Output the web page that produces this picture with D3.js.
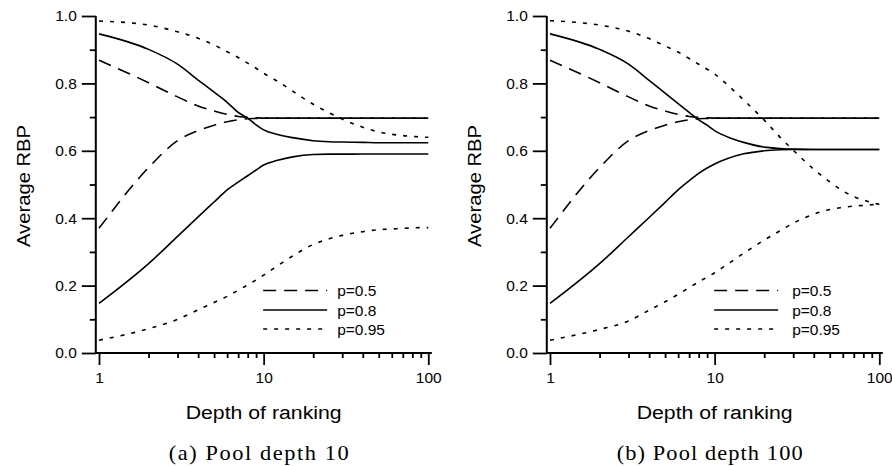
<!DOCTYPE html>
<html><head><meta charset="utf-8">
<script src="https://cdn.jsdelivr.net/npm/d3@7"></script>
<style>
body{margin:0;background:#fff}
svg{display:block}
text{fill:#000}
</style>
</head><body>
<svg id="chart" width="892" height="466"></svg>
<script>
// ---------------- data ----------------
const depths = [1,2,3,4,5,6,7,8,9,10,12,15,20,25,30,40,50,60,70,80,90,100];
const seriesNames = ["p=0.5","p=0.8","p=0.95"];
const xMajorTicks = [1,10,100];
const xMinorTicks = [2,3,4,5,6,7,8,9,20,30,40,50,60,70,80,90];
const yMajorTicks = [0,0.2,0.4,0.6,0.8,1.0];
const yMinorTicks = [0.1,0.3,0.5,0.7,0.9];
const captions = ["(a) Pool depth 10","(b) Pool depth 100"];
const xTitle = "Depth of ranking";
const yTitle = "Average RBP";

// (a) Pool depth 10
const a_p05_upper = [0.869,0.802,0.760,0.733,0.718,0.708,0.702,0.699,0.698,0.697,0.697,0.697,0.697,0.697,0.697,0.697,0.697,0.697,0.697,0.697,0.697,0.697];
const a_p05_lower = [0.370,0.550,0.630,0.660,0.676,0.686,0.692,0.695,0.696,0.697,0.697,0.697,0.697,0.697,0.697,0.697,0.697,0.697,0.697,0.697,0.697,0.697];
const a_p08_upper = [0.947,0.901,0.857,0.810,0.774,0.744,0.714,0.697,0.677,0.662,0.649,0.639,0.630,0.627,0.626,0.625,0.624,0.624,0.624,0.624,0.624,0.624];
const a_p08_lower = [0.147,0.265,0.346,0.404,0.448,0.484,0.507,0.526,0.543,0.558,0.571,0.582,0.589,0.590,0.590,0.5905,0.5905,0.5905,0.5905,0.5905,0.5905,0.5905];
const a_p095_upper = [0.985,0.973,0.953,0.934,0.914,0.894,0.877,0.860,0.845,0.830,0.808,0.777,0.738,0.713,0.694,0.670,0.656,0.649,0.645,0.643,0.641,0.640];
const a_p095_lower = [0.038,0.072,0.100,0.128,0.150,0.168,0.186,0.202,0.217,0.231,0.257,0.288,0.322,0.339,0.349,0.360,0.366,0.368,0.370,0.371,0.372,0.372];

// (b) Pool depth 100
const b_p05_upper = [0.869,0.802,0.760,0.733,0.718,0.708,0.702,0.699,0.698,0.697,0.697,0.697,0.697,0.697,0.697,0.697,0.697,0.697,0.697,0.697,0.697,0.697];
const b_p05_lower = [0.370,0.550,0.630,0.660,0.676,0.686,0.692,0.695,0.696,0.697,0.697,0.697,0.697,0.697,0.697,0.697,0.697,0.697,0.697,0.697,0.697,0.697];
const b_p08_upper = [0.947,0.901,0.857,0.809,0.771,0.740,0.714,0.692,0.676,0.660,0.641,0.625,0.611,0.607,0.605,0.604,0.604,0.604,0.604,0.604,0.604,0.604];
const b_p08_lower = [0.147,0.265,0.345,0.402,0.447,0.484,0.511,0.533,0.549,0.561,0.577,0.591,0.600,0.603,0.604,0.604,0.604,0.604,0.604,0.604,0.604,0.604];
const b_p095_upper = [0.986,0.973,0.955,0.933,0.911,0.893,0.874,0.857,0.842,0.828,0.795,0.751,0.691,0.640,0.602,0.545,0.508,0.481,0.464,0.454,0.446,0.441];
const b_p095_lower = [0.038,0.070,0.095,0.127,0.152,0.174,0.194,0.211,0.225,0.238,0.264,0.296,0.335,0.363,0.385,0.412,0.426,0.432,0.436,0.438,0.440,0.441];

// ---------------- drawing ----------------
const SANS = "'Liberation Sans', Arial, Helvetica, sans-serif";
const SERIF = "'Liberation Serif', 'Times New Roman', serif";
const dashes = {"p=0.5":"13,8","p=0.8":null,"p=0.95":"4,7"};
const panels = [
  {x0:99, legendText:74, caption:captions[0], captionLen:180,
   curves:[["p=0.5",a_p05_upper],["p=0.5",a_p05_lower],["p=0.8",a_p08_upper],["p=0.8",a_p08_lower],["p=0.95",a_p095_upper],["p=0.95",a_p095_lower]]},
  {x0:550, legendText:78, caption:captions[1], captionLen:186,
   curves:[["p=0.5",b_p05_upper],["p=0.5",b_p05_lower],["p=0.8",b_p08_upper],["p=0.8",b_p08_lower],["p=0.95",b_p095_upper],["p=0.95",b_p095_lower]]}
];

const svg = d3.select("#chart");
svg.append("rect").attr("width",892).attr("height",466).attr("fill","#fff");

const yTop = 16, yBot = 353, xSpan = 329.3;

panels.forEach(p => {
  const x = d3.scaleLog().domain([1,100]).range([p.x0, p.x0 + xSpan]);
  const y = d3.scaleLinear().domain([0,1]).range([yBot, yTop]);
  const axisX = p.x0 - 3.2;
  const g = svg.append("g");

  // curves
  const line = d3.line().x(d => x(d[0])).y(d => y(d[1])).curve(d3.curveMonotoneX);
  p.curves.forEach(([name, vals]) => {
    g.append("path")
      .attr("d", line(depths.map((d,i) => [d, vals[i]])))
      .attr("fill","none").attr("stroke","#000").attr("stroke-width",1.6)
      .attr("stroke-dasharray", dashes[name]);
  });

  // y axis
  const yMajor = d3.axisLeft(y).tickValues(yMajorTicks).tickSize(14).tickPadding(5).tickFormat(d3.format(".1f"));
  const yMinor = d3.axisLeft(y).tickValues(yMinorTicks).tickSize(6).tickFormat("");
  const ga = g.append("g").attr("transform",`translate(${axisX},0)`).call(yMajor);
  const gb = g.append("g").attr("transform",`translate(${axisX},0)`).call(yMinor);
  // x axis
  const xMajor = d3.axisBottom(x).tickValues(xMajorTicks).tickSize(12).tickPadding(7).tickFormat(d3.format("d"));
  const xMinor = d3.axisBottom(x).tickValues(xMinorTicks).tickSize(5).tickFormat("");
  const gc = g.append("g").attr("transform",`translate(0,${yBot})`).call(xMajor);
  const gd = g.append("g").attr("transform",`translate(0,${yBot})`).call(xMinor);
  [ga,gb,gc,gd].forEach(s => {
    s.select(".domain").remove();
    s.selectAll(".tick line").attr("stroke","#000").attr("stroke-width",1.8);
    s.selectAll(".tick text").style("font-size","15.5px").style("font-family",SANS).attr("fill","#000");
  });
  // axis lines
  g.append("line").attr("x1",axisX).attr("x2",axisX).attr("y1",yTop).attr("y2",yBot)
    .attr("stroke","#000").attr("stroke-width",2);
  g.append("line").attr("x1",axisX).attr("x2",x(100)+3.5).attr("y1",yBot).attr("y2",yBot)
    .attr("stroke","#000").attr("stroke-width",2);

  // titles
  g.append("text").attr("x", x(10)).attr("y", 419).attr("text-anchor","middle")
    .style("font-family",SANS).style("font-size","18px")
    .attr("textLength",156).attr("lengthAdjust","spacingAndGlyphs").text(xTitle);
  g.append("text").attr("transform",`translate(${axisX-66},186) rotate(-90)`).attr("text-anchor","middle")
    .style("font-family",SANS).style("font-size","18px")
    .attr("textLength",122).attr("lengthAdjust","spacingAndGlyphs").text(yTitle);

  // caption (serif, slightly widened like Computer Modern)
  const sx = 1.12;
  g.append("text").attr("transform",`translate(${x(10) - 5},460) scale(${sx},1)`).attr("text-anchor","middle")
    .style("font-family",SERIF).style("font-size","20px").style("font-weight","normal")
    .attr("textLength",p.captionLen / sx).attr("lengthAdjust","spacing").text(p.caption);

  // legend
  const lx = x(10) - 0.5;
  const rows = [290.5, 310, 329];
  seriesNames.forEach((name,i) => {
    g.append("line").attr("x1",lx).attr("x2",lx+64).attr("y1",rows[i]).attr("y2",rows[i])
      .attr("stroke","#000").attr("stroke-width",1.6).attr("stroke-dasharray",dashes[name]);
    g.append("text").attr("x",lx+p.legendText).attr("y",rows[i]+5.5)
      .style("font-family",SANS).style("font-size","15.5px").text(name);
  });
});
</script>
</body></html>
